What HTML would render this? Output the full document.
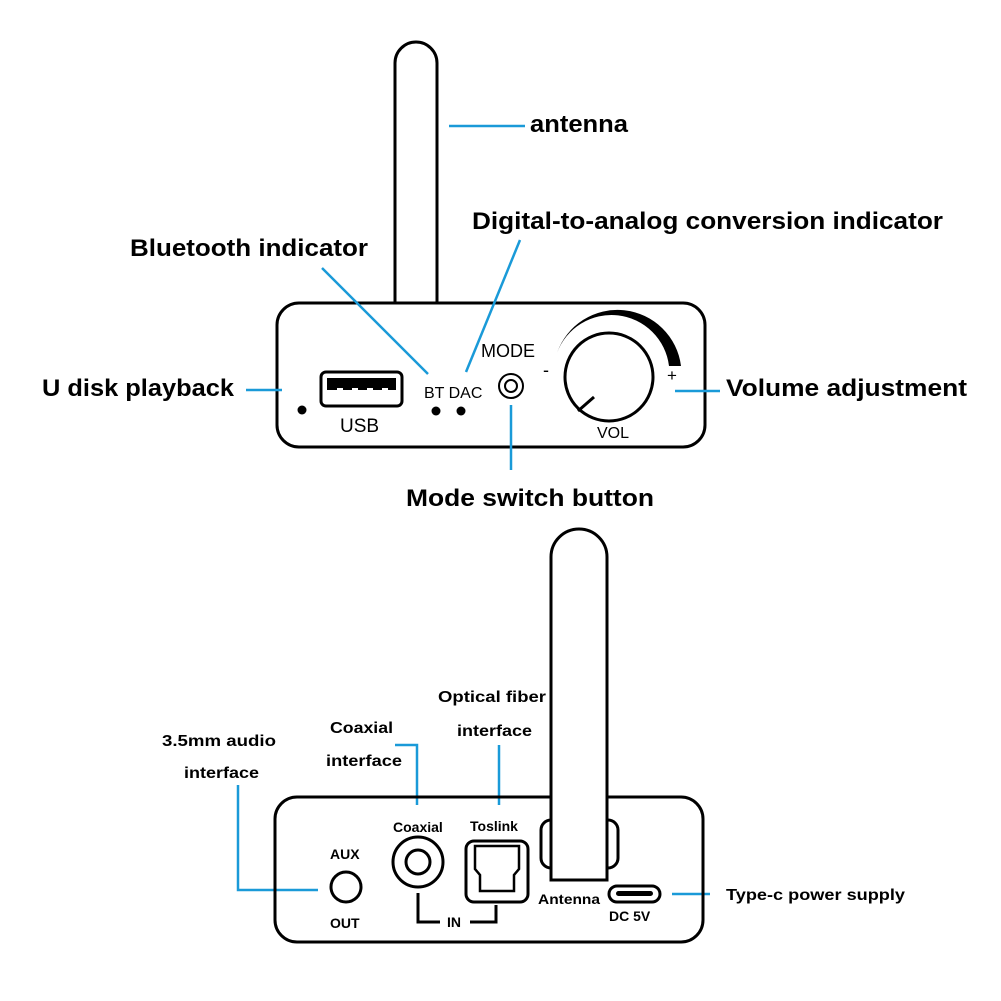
<!DOCTYPE html>
<html><head><meta charset="utf-8"><style>
html,body{margin:0;padding:0;background:#fff}
svg{display:block}
.b{font-family:"Liberation Sans",sans-serif;font-weight:bold;fill:#000}
.r{font-family:"Liberation Sans",sans-serif;fill:#000}
</style></head><body>
<svg width="1001" height="1001" viewBox="0 0 1001 1001" xmlns="http://www.w3.org/2000/svg">
<g fill="none" stroke="#000" stroke-width="3">
<path d="M395 302 V63 a21 21 0 0 1 42 0 V302"/>
<rect x="277" y="303" width="428" height="144" rx="22"/>
<rect x="321" y="372" width="81" height="34" rx="5"/>
<circle cx="511" cy="386" r="12" stroke-width="2"/>
<circle cx="511" cy="386" r="6" stroke-width="2"/>
<circle cx="609" cy="377" r="44"/>
<line x1="578" y1="411" x2="594" y2="397"/>
</g>
<rect x="327" y="378" width="69" height="12" fill="#000"/>
<g fill="#fff"><rect x="337" y="388" width="6" height="4"/><rect x="352" y="388" width="6" height="4"/><rect x="367" y="388" width="6" height="4"/><rect x="382" y="388" width="6" height="4"/></g>
<path d="M557 353 A64 64 0 0 1 681 366 L669 366 A58 58 0 0 0 557 353 Z" fill="#000"/>
<circle cx="302" cy="410" r="4.5" fill="#000"/>
<circle cx="436" cy="411" r="4.5" fill="#000"/>
<circle cx="461" cy="411" r="4.5" fill="#000"/>
<text class="r" x="340" y="432" font-size="19">USB</text>
<text class="r" x="424" y="398" font-size="16">BT DAC</text>
<text class="r" x="481" y="357" font-size="18">MODE</text>
<text class="r" x="543" y="376" font-size="18">-</text>
<text class="r" x="667" y="381" font-size="17">+</text>
<text class="r" x="597" y="438" font-size="16">VOL</text>
<g stroke="#1a9ad8" stroke-width="2.5" fill="none">
<line x1="449" y1="126" x2="525" y2="126"/>
<line x1="322" y1="268" x2="428" y2="374"/>
<line x1="520" y1="240" x2="466" y2="372"/>
<line x1="246" y1="390" x2="282" y2="390"/>
<line x1="675" y1="391" x2="720" y2="391"/>
<line x1="511" y1="405" x2="511" y2="470"/>
<polyline points="238,785 238,890 318,890"/>
<polyline points="395,745 417,745 417,805"/>
<line x1="499" y1="745" x2="499" y2="805"/>
<line x1="672" y1="894" x2="710" y2="894"/>
</g>
<g class="b" font-size="24" lengthAdjust="spacingAndGlyphs">
<text x="530" y="132" textLength="98" lengthAdjust="spacingAndGlyphs">antenna</text>
<text x="130" y="256" textLength="238" lengthAdjust="spacingAndGlyphs">Bluetooth indicator</text>
<text x="472" y="229" textLength="471" lengthAdjust="spacingAndGlyphs">Digital-to-analog conversion indicator</text>
<text x="42" y="396" textLength="192" lengthAdjust="spacingAndGlyphs">U disk playback</text>
<text x="726" y="396" textLength="241" lengthAdjust="spacingAndGlyphs">Volume adjustment</text>
<text x="406" y="506" textLength="248" lengthAdjust="spacingAndGlyphs">Mode switch button</text>
</g>
<g fill="none" stroke="#000" stroke-width="3">
<rect x="275" y="797" width="428" height="145" rx="22"/>
<rect x="541" y="820" width="77" height="48" rx="10"/>
</g>
<path d="M551 880 V557 a28 28 0 0 1 56 0 V880 Z" fill="#fff" stroke="#000" stroke-width="3"/>
<g fill="none" stroke="#000" stroke-width="3">
<circle cx="346" cy="887" r="15"/>
<circle cx="418" cy="862" r="25"/>
<circle cx="418" cy="862" r="12"/>
<rect x="466" y="841" width="62" height="61" rx="8"/>
<path d="M475 846 H519 V869 L514 875 V891 H480 V875 L475 869 Z" stroke-width="2.5"/>
<rect x="609" y="886" width="51" height="16" rx="8"/>
<polyline points="418,893 418,922 440,922"/>
<polyline points="470,922 496,922 496,905"/>
</g>
<rect x="616" y="891" width="37" height="5" rx="2.5" fill="#000"/>
<g class="b" font-size="14">
<text x="330" y="859">AUX</text>
<text x="330" y="928">OUT</text>
<text x="393" y="832">Coaxial</text>
<text x="470" y="831">Toslink</text>
<text x="447" y="927">IN</text>
<text x="538" y="904" textLength="62" lengthAdjust="spacingAndGlyphs">Antenna</text>
<text x="609" y="921">DC 5V</text>
</g>
<g class="b" font-size="16">
<text x="726" y="900" textLength="179" lengthAdjust="spacingAndGlyphs">Type-c power supply</text>
<text x="162" y="746" textLength="114" lengthAdjust="spacingAndGlyphs">3.5mm audio</text>
<text x="184" y="778" textLength="75" lengthAdjust="spacingAndGlyphs">interface</text>
<text x="330" y="733" textLength="63" lengthAdjust="spacingAndGlyphs">Coaxial</text>
<text x="326" y="766" textLength="76" lengthAdjust="spacingAndGlyphs">interface</text>
<text x="438" y="702" textLength="108" lengthAdjust="spacingAndGlyphs">Optical fiber</text>
<text x="457" y="736" textLength="75" lengthAdjust="spacingAndGlyphs">interface</text>
</g>
</svg>
</body></html>
